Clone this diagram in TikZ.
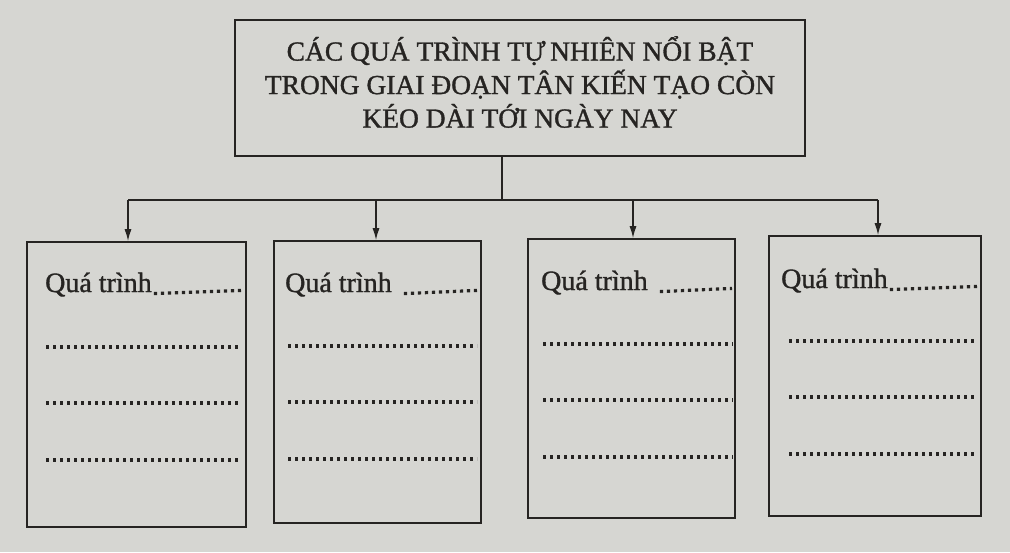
\documentclass[tikz,border=0pt]{standalone}
\usepackage{fontspec}
\setmainfont{Liberation Serif}[BoldFont={Liberation Serif},BoldFeatures={FakeBold=1.2}]
\usetikzlibrary{arrows.meta}
\definecolor{paper}{RGB}{214,214,210}
\definecolor{ink}{RGB}{38,36,34}
\begin{document}
\begin{tikzpicture}[x=1pt,y=-1pt,
  frame/.style={draw=ink, line width=1.6pt, rectangle, inner sep=0pt},
  conn/.style={draw=ink, line width=1.4pt},
  arr/.style={conn, -{Latex[length=12pt,width=7pt]}},
  qlabel/.style={text=ink, font=\fontsize{28}{30}\selectfont\bfseries, anchor=base west, inner sep=0pt},
  dotline/.style={draw=ink, line width=3.2pt, dash pattern=on 3.2pt off 3.8pt},
  titletext/.style={text=ink, font=\fontsize{27.5}{33.5}\selectfont\bfseries, align=center}]
\fill[paper] (0,0) rectangle (1010,552);
\useasboundingbox (0,0) rectangle (1010,552);
% title box
\node[frame, minimum width=570pt, minimum height=136pt] (top) at (520,88) {};
\node[titletext] (tt) at (520,82) {CÁC QUÁ TRÌNH TỰ\,NHIÊN NỔI BẬT\\TRONG GIAI ĐOẠN TÂN KIẾN TẠO CÒN\\KÉO DÀI TỚI NGÀY NAY};
% four boxes
\node[frame, minimum width=219pt, minimum height=285pt] (b1) at (136.5,384.5) {};
\node[frame, minimum width=207pt, minimum height=282pt] (b2) at (377.5,382) {};
\node[frame, minimum width=207pt, minimum height=279pt] (b3) at (631.5,378.5) {};
\node[frame, minimum width=212pt, minimum height=280pt] (b4) at (875,376) {};
% connectors
\coordinate (bus) at (502,200);
\coordinate (j1) at (128,200);
\coordinate (j2) at (376,200);
\coordinate (j3) at (633,200);
\coordinate (j4) at (878,200);
\draw[conn] (top.south -| bus) -- (bus);
\draw[conn] (j1) -- (j4);
\draw[arr] (j1) -- (j1 |- b1.north);
\draw[arr] (j2) -- (j2 |- b2.north);
\draw[arr] (j3) -- (j3 |- b3.north);
\draw[arr] (j4) -- (j4 |- b4.north);
% labels
\node[qlabel] (q1) at (45,292) {Quá trình};
\node[qlabel] (q2) at (285,292) {Quá trình};
\node[qlabel] (q3) at (541,290) {Quá trình};
\node[qlabel] (q4) at (781,288) {Quá trình};
\draw[dotline] ([xshift=2pt,yshift=-1.6pt]q1.base east) -- (241,290.4);
\draw[dotline] ([xshift=12pt,yshift=-1.6pt]q2.base east) -- (477,290.4);
\draw[dotline] ([xshift=12pt,yshift=-1.6pt]q3.base east) -- (732,288.4);
\draw[dotline] ([xshift=2pt,yshift=-1.6pt]q4.base east) -- (977,286.4);
% dotted answer lines
\foreach \y in {347,403,460}{
  \draw[dotline] (46,\y) -- (241,\y);
  \draw[dotline] (288,\y-1) -- (477,\y-1);
  \draw[dotline] (543,\y-3) -- (733,\y-3);
  \draw[dotline] (789,\y-6) -- (977,\y-6);
}
\end{tikzpicture}
\end{document}
